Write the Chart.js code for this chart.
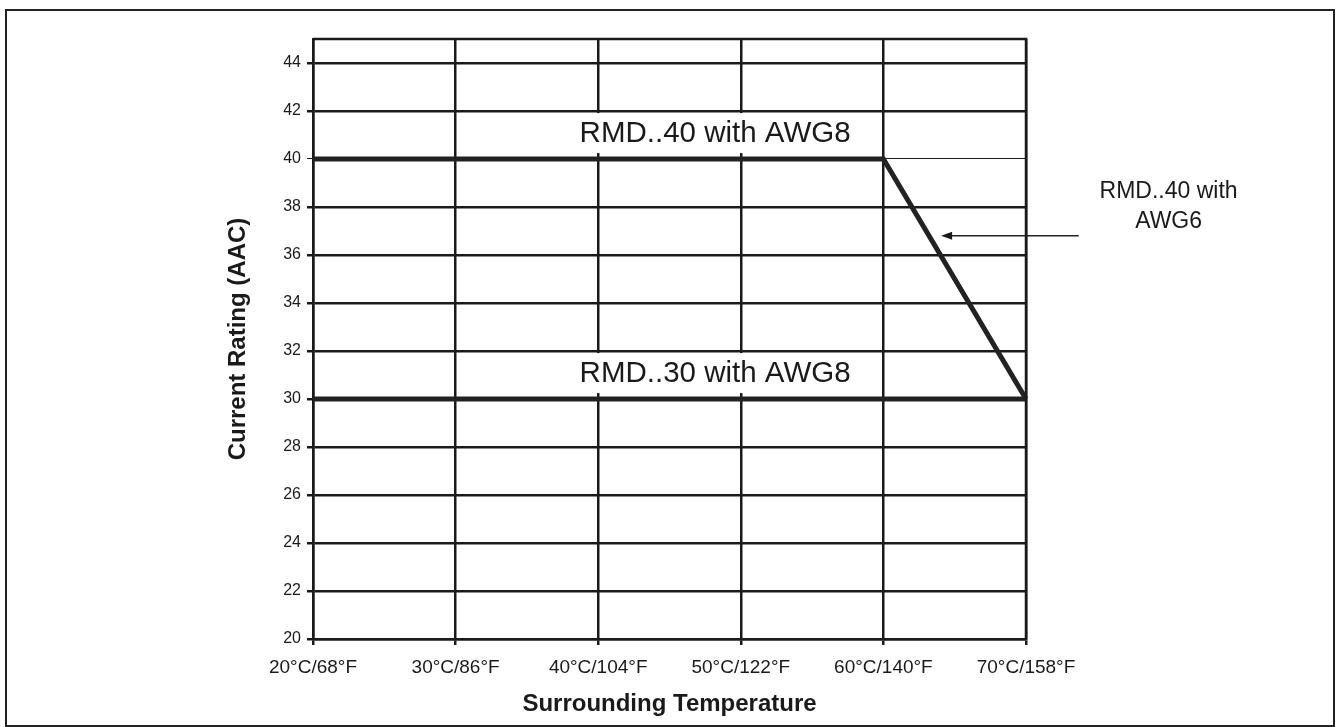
<!DOCTYPE html>
<html>
<head>
<meta charset="utf-8">
<script src="https://cdn.jsdelivr.net/npm/chart.js@4.4.1/dist/chart.umd.min.js"></script>
<style>
html,body{margin:0;padding:0;background:#fff;}
canvas{display:block;}
</style>
</head>
<body>
<canvas id="c" width="1338" height="727"></canvas>
<script>
// ---- data ----
const xValues = [20, 30, 40, 50, 60, 70];
const xLabels = ['20°C/68°F', '30°C/86°F', '40°C/104°F', '50°C/122°F', '60°C/140°F', '70°C/158°F'];
const rmd40Awg = [40, 40, 40, 40, 40, 30];
const rmd30Awg8 = [30, 30, 30, 30, 30, 30];
const yTicks = [20, 22, 24, 26, 28, 30, 32, 34, 36, 38, 40, 42, 44];
const yMin = 20, yMax = 45;
const xTitle = 'Surrounding Temperature';
const yTitle = 'Current Rating (AAC)';
const label40 = 'RMD..40 with AWG8';
const label30 = 'RMD..30 with AWG8';
const labelAwg6 = ['RMD..40 with', 'AWG6'];

const FONT = "'Liberation Sans', Arial, Helvetica, sans-serif";
const INK = '#1a1a1a';

function pts(ys) { return xValues.map((x, i) => ({x: x, y: ys[i]})); }

const annotationPlugin = {
  id: 'annot',
  beforeDatasetsDraw(chart) {
    const {ctx, scales: {x, y}} = chart;
    ctx.save();
    ctx.font = '29.5px ' + FONT;
    ctx.textAlign = 'center';
    ctx.textBaseline = 'middle';
    [[label40, 48.2, 41.08], [label30, 48.2, 31.08]].forEach(([t, xv, yv]) => {
      const px = x.getPixelForValue(xv), py = y.getPixelForValue(yv);
      const w = ctx.measureText(t).width + 16;
      ctx.fillStyle = '#fff';
      ctx.fillRect(px - w / 2, py - 20, w, 40);
      ctx.fillStyle = INK;
      ctx.fillText(t, px, py + 1);
    });
    ctx.restore();
  },
  afterDraw(chart) {
    const {ctx, chartArea: a, scales: {x, y}} = chart;
    ctx.save();
    // plot frame top/right
    ctx.strokeStyle = INK;
    ctx.lineWidth = 2.5;
    ctx.beginPath();
    ctx.moveTo(a.left, a.top);
    ctx.lineTo(a.right, a.top);
    ctx.lineTo(a.right, a.bottom);
    ctx.stroke();
    // page frame
    ctx.lineWidth = 2;
    ctx.strokeStyle = '#222';
    ctx.strokeRect(6, 10, 1328, 716);
    // outside annotation
    ctx.font = '23px ' + FONT;
    ctx.fillStyle = INK;
    ctx.textAlign = 'center';
    ctx.textBaseline = 'middle';
    const tx = x.getPixelForValue(80);
    ctx.fillText(labelAwg6[0], tx, y.getPixelForValue(38.65));
    ctx.fillText(labelAwg6[1], tx, y.getPixelForValue(37.38));
    // arrow
    const ax0 = x.getPixelForValue(73.7), ax1 = x.getPixelForValue(64.05), ay = y.getPixelForValue(36.8);
    ctx.lineWidth = 1.5;
    ctx.beginPath();
    ctx.moveTo(ax0, ay);
    ctx.lineTo(ax1 + 8, ay);
    ctx.stroke();
    ctx.beginPath();
    ctx.moveTo(ax1, ay);
    ctx.lineTo(ax1 + 11, ay - 4);
    ctx.lineTo(ax1 + 11, ay + 4);
    ctx.closePath();
    ctx.fill();
    ctx.restore();
  }
};

new Chart(document.getElementById('c'), {
  type: 'line',
  data: {
    datasets: [
      {label: 'RMD..40', data: pts(rmd40Awg), borderColor: '#222', borderWidth: 5, pointRadius: 0, tension: 0, borderJoinStyle: 'miter', clip: false},
      {label: 'RMD..30', data: pts(rmd30Awg8), borderColor: '#222', borderWidth: 5, pointRadius: 0, tension: 0, clip: false}
    ]
  },
  options: {
    responsive: false,
    animation: false,
    devicePixelRatio: 1,
    layout: {padding: {left: 0, top: 39, right: 312, bottom: 0}},
    plugins: {legend: {display: false}, tooltip: {enabled: false}},
    scales: {
      x: {
        type: 'linear', min: 20, max: 70,
        afterFit(s) { s.height = 88; },
        afterBuildTicks(s) { s.ticks = xValues.map(v => ({value: v})); },
        ticks: {
          callback: (v) => xLabels[xValues.indexOf(v)],
          font: {family: FONT, size: 19}, color: INK, padding: 11, maxRotation: 0, autoSkip: false
        },
        grid: {color: INK, lineWidth: 2.5, tickLength: 6, drawTicks: true},
        border: {color: INK, width: 2.5},
        title: {display: true, text: xTitle, font: {family: FONT, size: 24, weight: 'bold'}, color: INK, padding: {top: 0, bottom: 8}}
      },
      y: {
        type: 'linear', min: yMin, max: yMax,
        afterFit(s) { s.width = 313; },
        afterBuildTicks(s) { s.ticks = yTicks.map(v => ({value: v})); },
        ticks: {font: {family: FONT, size: 16}, color: INK, padding: 6},
        grid: {color: INK, lineWidth: (c) => (c.tick && c.tick.value === 40 ? 1 : 2.5), tickLength: 6},
        border: {color: INK, width: 2.5},
        title: {display: true, text: yTitle, font: {family: FONT, size: 24, weight: 'bold'}, color: INK, padding: {top: 224, bottom: 0}}
      }
    }
  },
  plugins: [annotationPlugin]
});
</script>
</body>
</html>
